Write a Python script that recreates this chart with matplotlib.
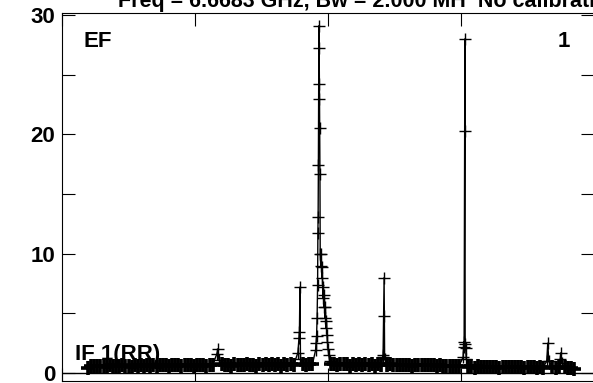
import numpy as np
import matplotlib
matplotlib.use('Agg')
import matplotlib.pyplot as plt
from matplotlib.ticker import MultipleLocator

plt.rcParams['font.family'] = ['Liberation Sans', 'DejaVu Sans']
plt.rcParams['font.weight'] = 'bold'

# baseline channels (every 12 channels) and amplitudes
base_chan = np.arange(100, 1973, 12)
base_amp = [
    0.40, 0.55, 0.60, 0.56, 0.62, 0.58, 0.50, 0.63, 0.59, 0.61,
    0.57, 0.64, 0.60, 0.62, 0.48, 0.65, 0.61, 0.63, 0.58, 0.66,
    0.62, 0.64, 0.52, 0.67, 0.63, 0.65, 0.60, 0.68, 0.64, 0.66,
    0.55, 0.69, 0.65, 0.67, 0.62, 0.70, 0.66, 0.68, 0.56, 0.71,
    0.67, 0.69, 0.64, 0.72, 0.68, 0.70, 0.58, 0.72, 0.69, 0.71,
    0.66, 0.73, 0.69, 0.71, 0.60, 0.73, 0.70, 0.72, 0.67, 0.74,
    0.70, 0.72, 0.62, 0.74, 0.71, 0.73, 0.68, 0.75, 0.71, 0.73,
    0.69, 0.76, 0.72, 0.80, 0.90, 0.90, 0.90, 0.90, 0.76, 0.74,
    0.70, 0.75, 0.72, 0.74, 0.62, 0.75, 0.71, 0.73, 0.69, 0.74,
    0.70, 0.72, 0.60, 0.73, 0.69, 0.71, 0.67, 0.72, 0.68, 0.70,
    0.64, 0.71, 0.67, 0.69, 0.58, 0.70, 0.66, 0.68, 0.63, 0.69,
    0.64, 0.66, 0.55, 0.66, 0.60, 0.62, 0.57, 0.60, 0.56, 0.58,
    0.50, 0.57, 0.53, 0.55, 0.44, 0.55, 0.51, 0.53, 0.49, 0.54,
    0.50, 0.52, 0.42, 0.53, 0.49, 0.51, 0.47, 0.52, 0.48, 0.50,
    0.40, 0.51, 0.47, 0.49, 0.45, 0.50, 0.46, 0.48, 0.38, 0.49,
    0.45, 0.47, 0.43, 0.48, 0.44, 0.40, 0.35,
]

# line features (channel, amplitude)
pk_chan = [596, 600, 604,
           908, 912, 914, 916, 918,
           976, 978, 980, 982, 984, 985, 986, 987, 988, 989, 990, 991, 992, 993, 994,
           996, 998, 1000, 1002, 1004, 1006, 1008, 1010, 1012, 1014, 1016, 1018,
           1020, 1022, 1024, 1027, 1030,
           1234, 1236, 1238, 1240, 1242,
           1544, 1546, 1548, 1550, 1551, 1552, 1554, 1556,
           1866, 1870, 1874,
           1918, 1921, 1924]
pk_amp = [1.6, 2.0, 1.1,
          1.7, 2.9, 3.4, 7.2, 1.2,
          1.9, 2.5, 3.1, 4.6, 7.4, 11.7, 13.1, 17.4, 24.2, 29.1, 27.2, 23.0, 20.5, 16.7, 10.0,
          9.0, 10.0, 8.0, 8.9, 6.3, 7.2, 5.5, 6.5, 4.6, 5.5, 3.8, 4.4,
          3.2, 2.6, 2.0, 1.5, 1.0,
          1.35, 1.5, 4.8, 8.0, 1.2,
          1.3, 2.6, 2.2, 20.3, 28.0, 2.4, 2.1, 1.2,
          1.0, 2.5, 1.0,
          1.2, 1.7, 0.8]

base_amp = np.array(base_amp)
pk_chan = np.array(pk_chan)
pk_amp = np.array(pk_amp)
keep = np.min(np.abs(base_chan[:, None] - pk_chan[None, :]), axis=1) > 5
chan = np.concatenate([base_chan[keep], pk_chan])
amp = np.concatenate([base_amp[keep], pk_amp])
order = np.argsort(chan)
chan, amp = chan[order], amp[order]

fig = plt.figure(figsize=(5.93, 3.83), dpi=100)
ax = fig.add_axes([62/593, 2/383, 532/593, 368/383])

ax.plot(chan, amp, color='black', lw=1.0, marker='+', ms=9, mew=1.0)
# dense baseline channels overlap into a solid band
ax.plot(base_chan[keep], base_amp[keep], ls='none', color='black', marker='+', ms=10.5, mew=2.6)
ax.axhline(0, color='black', lw=1)

ax.set_xlim(0, 2048)
ax.set_ylim(-0.67, 30.17)
ax.xaxis.set_major_locator(MultipleLocator(512))
ax.yaxis.set_major_locator(MultipleLocator(10))
ax.yaxis.set_minor_locator(MultipleLocator(5))
ax.tick_params(which='both', direction='in', length=9.5, width=0.8,
               top=True, right=True, labelbottom=False)
ax.tick_params(axis='y', labelsize=16, pad=5)
for s in ax.spines.values():
    s.set_linewidth(0.8)

ax.text(0.0395, 0.908, 'EF', transform=ax.transAxes, fontsize=16, fontweight='bold')
ax.text(0.955, 0.908, '1', transform=ax.transAxes, fontsize=16, fontweight='bold', ha='right')
ax.text(0.0244, 0.057, 'IF 1(RR)', transform=ax.transAxes, fontsize=16, fontweight='bold')
fig.text(118/593, (383-7.5)/383, 'Freq = 6.6683 GHz, Bw = 2.000 MH  No calibration',
         fontsize=15.5, fontweight='bold')

fig.savefig('out.png', dpi=100)
